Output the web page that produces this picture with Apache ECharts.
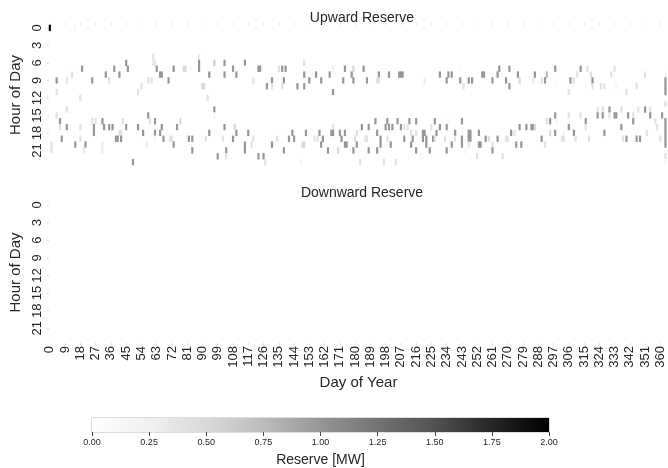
<!DOCTYPE html>
<html>
<head>
<meta charset="utf-8">
<script src="https://cdn.jsdelivr.net/npm/echarts@6/dist/echarts.min.js"></script>
<style>
  html, body { margin: 0; padding: 0; background: #fff; }
  #chart { width: 668px; height: 468px; }
</style>
</head>
<body>
<div id="chart"></div>
<script>
// days 0..364, hours 0..23
const days = Array.from({length: 365}, (_, i) => String(i))
const hours = Array.from({length: 24}, (_, i) => String(i))

// colorbar ticks
const reserveTicks = [0, 0.25, 0.5, 0.75, 1, 1.25, 1.5, 1.75, 2]

// matplotlib "Greys" colour stops
const greys = ['#ffffff', '#f0f0f0', '#d9d9d9', '#bdbdbd', '#969696', '#737373', '#525252', '#252525', '#000000']

// upward reserve, non-zero cells only: [day, hour, MW]
const upwardCells = [
  [0,0,2],[15,0,0.15],
  [45,6,1],[62,6,0.4],
  [19,7,1],[38,7,1],[46,7,1],[63,7,1],
  [13,8,0.4],[33,8,1],[41,8,1],
  [4,9,1],[10,9,0.4],[25,9,1],[35,9,0.4],[58,9,0.4],[60,9,0.4],
  [54,10,0.4],
  [4,11,0.4],[52,11,0.4],
  [18,12,0.4],
  [10,14,0.4],
  [4,15,0.4],[58,15,1],
  [6,16,1],[25,16,0.4],[27,16,0.4],[31,16,1],[43,16,0.4],[59,16,0.4],
  [6,17,0.4],[10,17,1],[18,17,0.4],[26,17,1],[32,17,1],[35,17,1],[37,17,1],[45,17,1],[52,17,1],
  [26,18,1],[41,18,0.4],[42,18,0.4],[55,18,1],[62,18,1],
  [7,19,1],[18,19,0.4],[39,19,1],[40,19,1],[42,19,1],
  [1,20,0.4],[15,20,1],[21,20,1],[31,20,0.3],[57,20,0.3],
  [1,21,0.4],[20,21,0.3],[31,21,0.3],
  [49,23,1],
  // 61-124
  [61,5,0.4],[88,5,0.3],
  [61,6,0.3],[88,6,1],[97,6,0.6],[103,6,1],[115,6,1],
  [73,7,1],[79,7,0.5],[80,7,0.5],[83,7,0.15],[88,7,1],[108,7,1],[115,7,0.15],[123,7,1],[124,7,1],
  [65,8,1],[66,8,1],[94,8,1],[103,8,1],[110,8,1],
  [70,9,1],[120,9,0.4],
  [90,10,0.5],[91,10,0.5],
  [93,12,0.4],
  [97,14,1],
  [97,15,0.15],
  [62,16,1],[77,16,0.5],
  [66,17,1],[75,17,1],[103,17,1],[109,17,0.5],
  [65,18,1],[94,18,1],[110,18,1],[117,18,1],
  [62,19,0.15],[67,19,1],[71,19,0.4],[72,19,0.4],[82,19,1],[84,19,1],[92,19,0.4],[102,19,0.4],[108,19,1],[120,19,0.4],
  [73,20,1],[115,20,1],[119,20,0.4],
  [84,21,1],[104,21,1],[115,21,1],
  [99,22,1],[104,22,0.4],[123,22,1],
  // 123-186
  [150,6,0.4],
  [135,7,0.4],[137,7,1],[139,7,1],[167,7,0.2],[174,7,1],[179,7,0.5],[185,7,1],
  [150,8,1],[157,8,1],[165,8,1],[178,8,1],
  [131,9,1],[138,9,1],[153,9,1],[160,9,1],[173,9,1],[179,9,1],[187,9,1],
  [128,10,1],[131,10,0.4],[137,10,0.4],[146,10,1],[150,10,1],
  [167,11,1],
  [167,17,0.4],[184,17,1],
  [143,18,1],[151,18,1],[159,18,1],[166,18,1],[167,18,1],[171,18,1],[174,18,1],[181,18,0.4],
  [134,19,0.4],[141,19,1],[144,19,1],[156,19,0.4],[158,19,0.4],[161,19,1],[172,19,1],[180,19,0.4],[186,19,0.3],
  [131,20,1],[149,20,0.5],[150,20,0.5],[160,20,1],[174,20,1],[175,20,1],[181,20,1],
  [138,21,1],[164,21,1],[170,21,0.5],[179,21,1],
  [126,22,1],
  [127,23,0.4],[148,23,0.15],[183,23,0.4],
  // 185-248
  [242,7,0.15],
  [194,8,1],[200,8,1],[206,8,1],[207,8,1],[208,8,1],[230,8,1],[235,8,1],[237,8,1],
  [193,9,0.4],[194,9,0.4],[221,9,0.3],[234,9,1],[242,9,1],[247,9,1],
  [244,10,0.4],
  [192,16,1],[199,16,1],[205,16,1],[212,16,1],[216,16,1],[227,16,1],[235,16,0.15],[243,16,1],
  [188,17,1],[198,17,1],[200,17,1],[202,17,1],[207,17,1],[209,17,0.4],[211,17,0.4],[225,17,0.4],[230,17,1],[234,17,1],
  [193,18,1],[213,18,0.4],[216,18,0.4],[220,18,1],[221,18,1],[228,18,1],[239,18,1],[247,18,1],
  [187,19,0.4],[195,19,1],[199,19,0.4],[209,19,1],[214,19,1],[220,19,1],[222,19,1],[226,19,1],[227,19,0.4],[233,19,0.4],[239,19,0.4],[243,19,1],[247,19,1],[248,19,1],
  [195,20,1],[201,20,1],[213,20,1],[222,20,1],[237,20,1],[243,20,1],[247,20,0.4],
  [188,21,1],[193,21,1],[216,21,1],[224,21,1],[234,21,1],[245,21,0.15],
  [219,22,0.15],
  [197,23,0.4],[204,23,0.4],
  // 247-310
  [265,7,1],[271,7,1],[298,7,1],
  [255,8,1],[256,8,1],[264,8,1],[276,8,1],[286,8,1],[293,8,0.8],
  [249,9,1],[261,9,1],[269,9,1],[277,9,0.5],[285,9,0.3],[290,9,0.4],[292,9,1],[299,9,0.1],[307,9,1],[309,9,0.4],
  [271,10,1],
  [306,11,0.4],
  [298,15,1],[306,15,0.4],
  [293,16,0.4],[295,16,1],[299,16,0.15],
  [277,17,1],[281,17,1],[284,17,1],[285,17,1],[286,17,0.5],[306,17,1],
  [248,18,1],[253,18,1],[272,18,1],[274,18,0.4],[295,18,0.4],[298,18,1],[303,18,0.15],[309,18,1],
  [257,19,1],[259,19,0.4],[264,19,1],[269,19,0.4],[270,19,0.4],[290,19,1],[302,19,0.4],[303,19,0.4],
  [253,20,1],[254,20,1],[261,20,0.4],[275,20,1],[278,20,1],[292,20,0.4],
  [261,21,1],
  [252,22,0.4],[267,22,0.4],
  // 308-364
  [313,7,1],[317,7,0.4],[333,7,0.4],
  [311,8,0.4],[319,8,0.4],[331,8,0.4],[351,8,0.4],[363,8,0.15],
  [320,9,1],[363,9,1],
  [320,10,0.4],[325,10,0.4],[327,10,0.4],[334,10,0.15],[346,10,0.4],[363,10,1],
  [340,11,0.4],[363,11,1],
  [363,13,0.4],
  [323,14,0.4],[326,14,0.4],[330,14,1],[337,14,0.4],[347,14,0.4],[351,14,1],[354,14,0.4],
  [313,15,0.4],[323,15,1],[326,15,1],[330,15,0.4],[333,15,1],[334,15,1],[341,15,1],[344,15,0.4],[354,15,1],[361,15,1],
  [316,16,1],[344,16,1],[357,16,0.4],[363,16,1],
  [316,17,0.4],[337,17,1],[358,17,0.4],[363,17,1],
  [327,18,1],[352,18,0.4],[363,18,1],
  [310,19,0.4],[318,19,0.4],[338,19,0.4],[340,19,1],[346,19,1],[348,19,1],[360,19,0.4],[363,19,1],
  [363,20,1],
  [363,22,0.4],[363,23,0.15]
]

// downward reserve is zero everywhere
const downwardCells = []

const textColor = '#262626'
const font = 'Liberation Sans, Arial, sans-serif'

const chart = echarts.init(document.getElementById('chart'))

function hourAxis(gridIndex) {
  return {
    type: 'category',
    gridIndex: gridIndex,
    data: hours,
    inverse: true,
    name: 'Hour of Day',
    nameLocation: 'middle',
    nameGap: 26,
    nameTextStyle: {color: textColor, fontSize: 15, fontFamily: font},
    axisLine: {show: false},
    axisTick: {show: true, interval: 2, alignWithLabel: true, length: 2, lineStyle: {color: '#ddd'}},
    axisLabel: {interval: 2, rotate: 90, margin: 5, color: textColor, fontSize: 13, fontFamily: font},
    splitLine: {show: false}
  }
}

const option = {
  backgroundColor: '#fff',
  animation: false,
  title: [{
    text: 'Upward Reserve',
    left: 357,
    top: 6,
    textAlign: 'center',
    textStyle: {color: textColor, fontSize: 14, fontWeight: 'normal', fontFamily: font}
  }, {
    text: 'Downward Reserve',
    left: 357,
    top: 181,
    textAlign: 'center',
    textStyle: {color: textColor, fontSize: 14, fontWeight: 'normal', fontFamily: font}
  }],
  grid: [
    {left: 45, top: 25, width: 625, height: 140},
    {left: 45, top: 202, width: 625, height: 141},
    {left: 92, top: 418, width: 457, height: 14, show: true, borderColor: '#bbb', borderWidth: 1}
  ],
  xAxis: [{
    type: 'category',
    gridIndex: 0,
    data: days,
    position: 'top',
    axisLine: {show: false},
    axisTick: {show: true, interval: 8, alignWithLabel: true, length: 2, lineStyle: {color: '#e0e0e0'}},
    axisLabel: {show: false},
    splitLine: {show: false}
  }, {
    type: 'category',
    gridIndex: 1,
    data: days,
    name: 'Day of Year',
    nameLocation: 'middle',
    nameGap: 32,
    nameTextStyle: {color: textColor, fontSize: 15, fontFamily: font},
    axisLine: {show: false},
    axisTick: {show: true, interval: 8, alignWithLabel: true, length: 2, lineStyle: {color: '#ddd'}},
    axisLabel: {interval: 8, rotate: 90, margin: 3, color: textColor, fontSize: 13, fontFamily: font},
    splitLine: {show: false}
  }, {
    type: 'value',
    gridIndex: 2,
    min: 0,
    max: 2,
    interval: 0.25,
    name: 'Reserve [MW]',
    nameLocation: 'middle',
    nameGap: 21,
    nameTextStyle: {color: textColor, fontSize: 14, fontFamily: font},
    axisLine: {show: false},
    axisTick: {show: true, length: 4, lineStyle: {color: '#444'}},
    axisLabel: {margin: 6, color: textColor, fontSize: 9, fontFamily: font,
      formatter: v => reserveTicks.includes(v) ? v.toFixed(2) : ''},
    splitLine: {show: false}
  }],
  yAxis: [hourAxis(0), hourAxis(1), {
    type: 'category',
    gridIndex: 2,
    data: ['Reserve'],
    show: false
  }],
  visualMap: {
    type: 'continuous',
    show: false,
    min: 0,
    max: 2,
    seriesIndex: [0, 1],
    inRange: {color: greys}
  },
  series: [{
    name: 'Upward Reserve',
    type: 'heatmap',
    xAxisIndex: 0,
    yAxisIndex: 0,
    data: upwardCells,
    silent: true
  }, {
    name: 'Downward Reserve',
    type: 'heatmap',
    xAxisIndex: 1,
    yAxisIndex: 1,
    data: downwardCells,
    silent: true
  }, {
    name: 'colorbar',
    type: 'bar',
    xAxisIndex: 2,
    yAxisIndex: 2,
    data: [reserveTicks[reserveTicks.length - 1]],
    barWidth: '100%',
    silent: true,
    itemStyle: {
      color: new echarts.graphic.LinearGradient(0, 0, 1, 0,
        greys.map((c, i) => ({offset: i / (greys.length - 1), color: c})))
    }
  }]
}

chart.setOption(option)
</script>
</body>
</html>
